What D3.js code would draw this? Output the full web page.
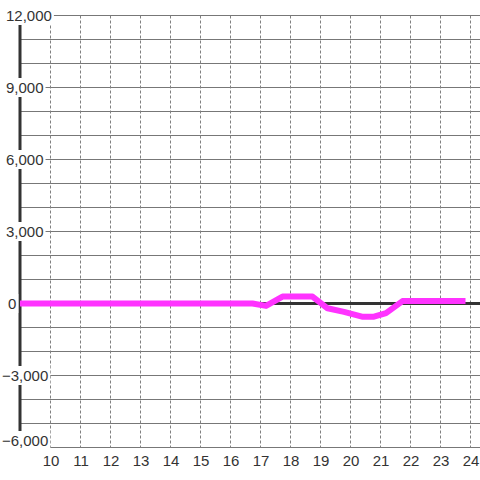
<!DOCTYPE html>
<html lang="en">
<head>
    <meta charset="UTF-8">
    <title>Hourly Line</title>
    <script src="https://d3js.org/d3.v7.min.js"></script>
    <style>
        body { margin: 0; background: #fff; }
        text { font-family: "Liberation Sans", Arial, sans-serif; font-size: 15px; fill: #333; }
        .hgrid { stroke: #777; stroke-width: 1px; }
        .vgrid { stroke: #808080; stroke-width: 1px; stroke-dasharray: 3,2; }
        .line { fill: none; stroke: #ff33ff; stroke-width: 6px; stroke-linejoin: round; }
    </style>
</head>
<body>
    <div id="chart"></div>
    <script>
        // series (hour of day, value)
        var hours  = [9, 16.75, 17.2, 17.75, 18.75, 19.25, 19.8, 20.4, 20.8, 21.2, 21.75, 23.85];
        var values = [0, 0, -100, 290, 290, -200, -350, -550, -550, -400, 100, 100];
        var xTicks = [10, 11, 12, 13, 14, 15, 16, 17, 18, 19, 20, 21, 22, 23, 24];
        var yMinor = d3.range(-6000, 12001, 1000);
        var yTicks = [-6000, -3000, 0, 3000, 6000, 9000, 12000];

        var width = 480, height = 480;
        var data = hours.map((h, i) => ({ hour: h, value: values[i] }));

        var svg = d3.select("#chart").append("svg")
            .attr("width", width)
            .attr("height", height);

        var x = d3.scaleLinear().domain([9, 24 + 1 / 3]).range([20, 480]);
        var y = d3.scaleLinear().domain([-6000, 12000]).range([447.5, 15.5]);

        // horizontal grid
        svg.selectAll(".hgrid")
            .data(yMinor.filter(d => d !== 0))
            .enter().append("line")
            .attr("class", "hgrid")
            .attr("x1", x(9)).attr("x2", width)
            .attr("y1", d => y(d)).attr("y2", d => y(d));

        // vertical dotted grid
        svg.selectAll(".vgrid")
            .data(xTicks)
            .enter().append("line")
            .attr("class", "vgrid")
            .attr("x1", d => Math.round(x(d)) + 0.5).attr("x2", d => Math.round(x(d)) + 0.5)
            .attr("y1", y(12000)).attr("y2", y(-6000));

        // zero line and left axis
        svg.append("line")
            .attr("x1", x(9)).attr("x2", width)
            .attr("y1", y(0)).attr("y2", y(0))
            .attr("stroke", "#333").attr("stroke-width", 3);
        svg.append("line")
            .attr("x1", x(9)).attr("x2", x(9))
            .attr("y1", y(12000)).attr("y2", y(-6000))
            .attr("stroke", "#333").attr("stroke-width", 3);

        // x tick labels
        svg.selectAll(".xlabel")
            .data(xTicks)
            .enter().append("text")
            .attr("class", "xlabel")
            .attr("x", d => x(d) + 1)
            .attr("y", 466)
            .attr("text-anchor", "middle")
            .text(d => d);

        // the series
        var line = d3.line()
            .x(d => x(d.hour))
            .y(d => y(d.value));

        svg.append("path")
            .datum(data)
            .attr("class", "line")
            .attr("d", line);

        // y tick labels with white boxes over the axis
        var fmt = d3.format(",");
        var yl = svg.selectAll(".ylabel")
            .data(yTicks)
            .enter().append("g")
            .attr("class", "ylabel");
        yl.append("rect").attr("fill", "#fff");
        yl.append("text")
            .attr("x", d => d < 0 ? 2 : (d === 0 ? 8 : 6))
            // the bottom label is lifted so it stays above the x labels
            .attr("y", d => y(d) + 5.5 - (d === -6000 ? 7 : 0))
            .text(d => fmt(d));
        yl.each(function () {
            var g = d3.select(this);
            var b = g.select("text").node().getBBox();
            g.select("rect")
                .attr("x", b.x - 1).attr("y", b.y - 1)
                .attr("width", b.width + 3).attr("height", b.height + 2);
        });
    </script>
</body>
</html>
